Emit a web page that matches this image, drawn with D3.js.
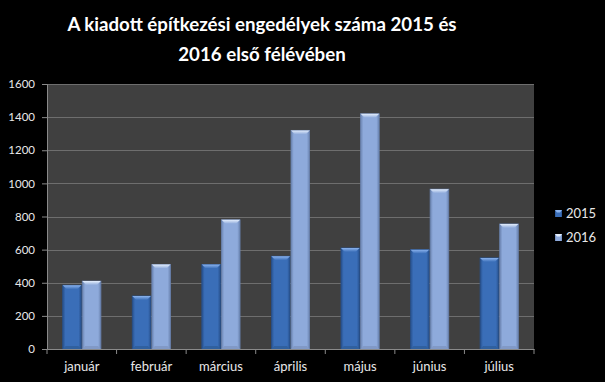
<!DOCTYPE html>
<html>
<head>
<meta charset="utf-8">
<script src="https://cdn.jsdelivr.net/npm/d3@7"></script>
<style>
	html, body { margin: 0; padding: 0; background: #000; }
	svg { display: block; }
</style>
</head>
<body>
<div id="chart"></div>
<script>

var months = ['január', 'február', 'március', 'április', 'május', 'június', 'július'];
var series = ['2015', '2016'];
var v2015 = [385, 320, 510, 560, 610, 600, 550];
var v2016 = [410, 510, 780, 1320, 1420, 965, 755];
var yTicks = [0, 200, 400, 600, 800, 1000, 1200, 1400, 1600];
var title = ['A kiadott építkezési engedélyek száma 2015 és', '2016 első félévében'];

(function() {

	var W = 605, H = 382;
	var mLeft = 47, mRight = 534, mTop = 84, mBottom = 349;
	var font = 'Lato, "Open Sans", sans-serif';

	var colors = {
		'2015': { main: '#3a6eb8', dark: '#27508c', light: '#8cb4ee', bottom: '#30609f' },
		'2016': { main: '#8eaadb', dark: '#6a83b0', light: '#e4eefc', bottom: '#8199c6' }
	};

	var svg = d3.select('#chart').append('svg').attr('width', W).attr('height', H);
	svg.append('rect').attr('width', W).attr('height', H).attr('fill', '#000');

	var x = d3.scaleBand().domain(months).range([mLeft, mRight]);
	var xs = d3.scaleBand().domain(series).range([0, x.bandwidth()]).paddingOuter(0.8).paddingInner(0.05);
	var y = d3.scaleLinear().domain([0, 1600]).range([mBottom, mTop]);

	// plot area
	svg.append('rect').attr('x', mLeft).attr('y', mTop).attr('width', mRight - mLeft).attr('height', mBottom - mTop).attr('fill', '#404040');

	// grid
	svg.append('g').selectAll('line').data(yTicks.filter(function(d) { return d > 0; })).join('line')
		.attr('x1', mLeft).attr('x2', mRight)
		.attr('y1', function(d) { return Math.round(y(d)) + 0.5; })
		.attr('y2', function(d) { return Math.round(y(d)) + 0.5; })
		.attr('stroke', '#6e6e6e').attr('stroke-width', 1);

	// gradients
	var defs = svg.append('defs');
	series.forEach(function(s) {
		var c = colors[s];
		var g = defs.append('linearGradient').attr('id', 'grad' + s).attr('x1', 0).attr('x2', 1).attr('y1', 0).attr('y2', 0);
		g.append('stop').attr('offset', '0%').attr('stop-color', c.dark);
		g.append('stop').attr('offset', '15%').attr('stop-color', c.main);
		g.append('stop').attr('offset', '85%').attr('stop-color', c.main);
		g.append('stop').attr('offset', '100%').attr('stop-color', c.dark);
		var t = defs.append('linearGradient').attr('id', 'top' + s).attr('x1', 0).attr('x2', 0).attr('y1', 0).attr('y2', 1);
		t.append('stop').attr('offset', '0%').attr('stop-color', c.light);
		t.append('stop').attr('offset', '100%').attr('stop-color', c.main);
	});

	var data = [];
	months.forEach(function(m, i) {
		data.push({ month: m, series: '2015', value: v2015[i] });
		data.push({ month: m, series: '2016', value: v2016[i] });
	});

	var bars = svg.append('g').selectAll('g').data(data).join('g')
		.attr('transform', function(d) { return 'translate(' + (x(d.month) + xs(d.series)) + ',0)'; });

	var bw = xs.bandwidth();
	var bev = 4;

	bars.append('rect')
		.attr('x', 0).attr('width', bw)
		.attr('y', function(d) { return y(d.value); })
		.attr('height', function(d) { return y(0) - y(d.value); })
		.attr('fill', function(d) { return 'url(#grad' + d.series + ')'; })
		.attr('stroke', function(d) { return colors[d.series].dark; })
		.attr('stroke-width', 0.8);

	// top bevel
	bars.append('path')
		.attr('d', function(d) {
			var t = y(d.value);
			return 'M0,' + t + 'L' + bw + ',' + t + 'L' + (bw - bev) + ',' + (t + bev) + 'L' + bev + ',' + (t + bev) + 'Z';
		})
		.attr('fill', function(d) { return 'url(#top' + d.series + ')'; });

	// bottom bevel
	bars.append('path')
		.attr('d', function(d) {
			var b = y(0);
			return 'M0,' + b + 'L' + bw + ',' + b + 'L' + (bw - 3) + ',' + (b - 3) + 'L3,' + (b - 3) + 'Z';
		})
		.attr('fill', function(d) { return colors[d.series].bottom; });

	// axes
	var yAxis = svg.append('g').attr('transform', 'translate(' + mLeft + ',0)')
		.call(d3.axisLeft(y).tickValues(yTicks).tickSize(5).tickPadding(7).tickFormat(d3.format('d')));
	var xAxis = svg.append('g').attr('transform', 'translate(0,' + mBottom + ')')
		.call(d3.axisBottom(x).tickSize(0).tickPadding(13));

	xAxis.selectAll('.tick').append('line')
		.attr('x1', -x.bandwidth() / 2).attr('x2', -x.bandwidth() / 2)
		.attr('y1', 0).attr('y2', 5);
	xAxis.append('line').attr('x1', mRight).attr('x2', mRight).attr('y1', 0).attr('y2', 5);

	[xAxis, yAxis].forEach(function(a) {
		a.select('.domain').attr('stroke', '#8a8a8a');
		a.selectAll('line').attr('stroke', '#8a8a8a');
		a.selectAll('text').attr('fill', '#e8e8e8').style('font-family', font).style('font-size', '13px');
	});
	yAxis.selectAll('text').style('font-size', '11.5px');

	// legend
	var legend = svg.append('g').attr('transform', 'translate(555,210)');
	series.forEach(function(s, i) {
		var g = legend.append('g').attr('transform', 'translate(0,' + (i * 24) + ')');
		g.append('rect').attr('width', 7).attr('height', 7).attr('fill', 'url(#grad' + s + ')');
		g.append('path').attr('d', 'M0,0L7,0L5,2.5L2,2.5Z').attr('fill', colors[s].light);
		g.append('text').attr('x', 11).attr('y', 8).text(s)
			.attr('fill', '#e8e8e8').style('font-family', font).style('font-size', '13px');
	});

	// title
	svg.append('g').selectAll('text').data(title).join('text')
		.attr('x', 262).attr('y', function(d, i) { return 31 + i * 30; })
		.attr('text-anchor', 'middle')
		.attr('fill', '#fff')
		.style('font-family', font).style('font-weight', 'bold').style('font-size', '18.7px')
		.text(function(d) { return d; });

})();

</script>
</body>
</html>
